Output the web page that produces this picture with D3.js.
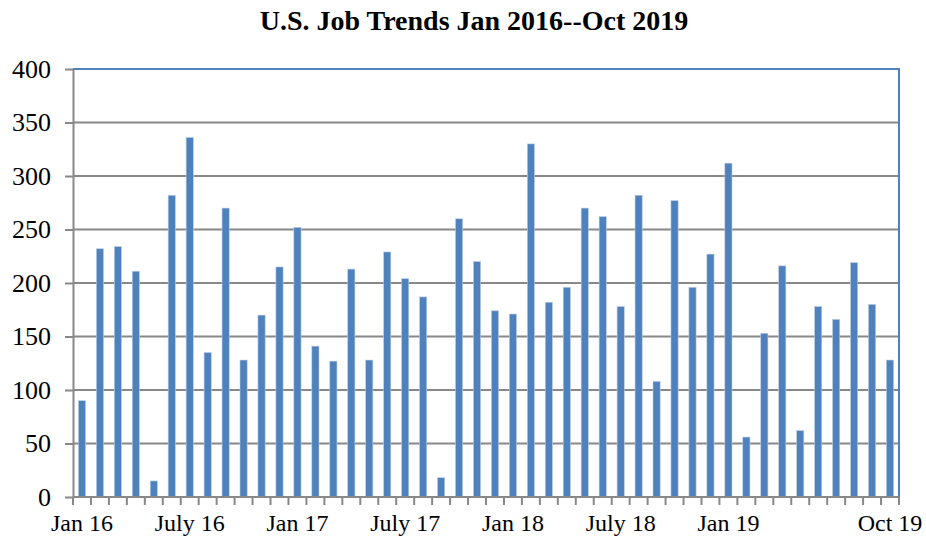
<!DOCTYPE html>
<html>
<head>
<meta charset="utf-8">
<script src="https://cdn.jsdelivr.net/npm/d3@7"></script>
<style>
  body { margin: 0; background: #fff; }
  svg { display: block; }
  svg text { font-family: "Liberation Serif", "Times New Roman", serif; }
</style>
</head>
<body>
<div id="chart"></div>
<script>
// Monthly job gains (thousands), Jan 2016 - Oct 2019
const months = [
  'Jan 16','Feb 16','Mar 16','Apr 16','May 16','Jun 16','July 16','Aug 16','Sep 16','Oct 16','Nov 16','Dec 16',
  'Jan 17','Feb 17','Mar 17','Apr 17','May 17','Jun 17','July 17','Aug 17','Sep 17','Oct 17','Nov 17','Dec 17',
  'Jan 18','Feb 18','Mar 18','Apr 18','May 18','Jun 18','July 18','Aug 18','Sep 18','Oct 18','Nov 18','Dec 18',
  'Jan 19','Feb 19','Mar 19','Apr 19','May 19','Jun 19','Jul 19','Aug 19','Sep 19','Oct 19'
];
const jobs = [
  90, 232, 234, 211, 15, 282, 336, 135, 270, 128, 170, 215,
  252, 141, 127, 213, 128, 229, 204, 187, 18, 260, 220, 174,
  171, 330, 182, 196, 270, 262, 178, 282, 108, 277, 196, 227,
  312, 56, 153, 216, 62, 178, 166, 219, 180, 128
];
const shownLabels = ['Jan 16','July 16','Jan 17','July 17','Jan 18','July 18','Jan 19','Oct 19'];
const yTicks = [0, 50, 100, 150, 200, 250, 300, 350, 400];

const width = 926, height = 539;
const margin = { top: 69, right: 27, bottom: 42, left: 73 };
const innerW = width - margin.left - margin.right;
const innerH = height - margin.top - margin.bottom;

const svg = d3.select('#chart').append('svg')
  .attr('width', width)
  .attr('height', height);

svg.append('text')
  .attr('x', 474)
  .attr('y', 30)
  .attr('text-anchor', 'middle')
  .attr('font-size', 28)
  .attr('font-weight', 'bold')
  .text('U.S. Job Trends Jan 2016--Oct 2019');

const g = svg.append('g').attr('transform', `translate(${margin.left},${margin.top})`);

const x = d3.scaleBand().domain(months).range([0, innerW]).paddingInner(0.6).paddingOuter(0.3);
const y = d3.scaleLinear().domain([0, 400]).range([innerH, 0]);

// gridlines
g.append('g')
  .selectAll('line')
  .data(yTicks.filter(d => d > 0 && d < 400))
  .join('line')
  .attr('x1', 0).attr('x2', innerW)
  .attr('y1', d => y(d)).attr('y2', d => y(d))
  .attr('stroke', '#888')
  .attr('stroke-width', 2);

// plot border (top/right in blue)
g.append('path')
  .attr('d', `M0,0H${innerW}V${innerH}`)
  .attr('fill', 'none')
  .attr('stroke', '#4f81bd')
  .attr('stroke-width', 2);

// bars
g.append('g')
  .selectAll('rect')
  .data(jobs)
  .join('rect')
  .attr('x', (d, i) => x(months[i]))
  .attr('y', d => y(d))
  .attr('width', x.bandwidth())
  .attr('height', d => innerH - y(d))
  .attr('fill', '#4f81bd')
  .attr('stroke', '#b9cde5')
  .attr('stroke-width', 0.6);

// y axis
const yAxis = g.append('g')
  .call(d3.axisLeft(y).tickValues(yTicks).tickSize(8).tickPadding(14).tickSizeOuter(0));
yAxis.select('.domain').attr('stroke', '#888').attr('stroke-width', 2);
yAxis.selectAll('.tick line').attr('stroke', '#888').attr('stroke-width', 2);
yAxis.selectAll('.tick text')
  .attr('font-family', '"Liberation Serif", serif')
  .attr('font-size', 26)
  .attr('fill', '#000');

// x axis: ticks at category boundaries
const bounds = d3.range(months.length + 1).map(i => i * innerW / months.length);
const xg = g.append('g').attr('transform', `translate(0,${innerH})`);
xg.append('line')
  .attr('x1', 0).attr('x2', innerW)
  .attr('stroke', '#888').attr('stroke-width', 2);
xg.selectAll('line.tk')
  .data(bounds)
  .join('line')
  .attr('class', 'tk')
  .attr('x1', d => d).attr('x2', d => d)
  .attr('y1', 0).attr('y2', 8)
  .attr('stroke', '#888').attr('stroke-width', 2);
xg.selectAll('text')
  .data(shownLabels)
  .join('text')
  .attr('x', d => x(d) + x.bandwidth() / 2)
  .attr('y', 34)
  .attr('text-anchor', 'middle')
  .attr('font-size', 24)
  .text(d => d);
</script>
</body>
</html>
